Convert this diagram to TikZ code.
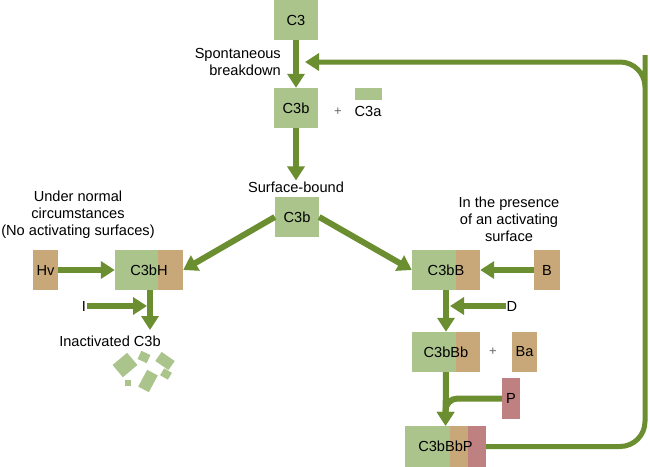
\documentclass[tikz,border=0pt]{standalone}
\usepackage{fontspec}
\setmainfont{Liberation Sans}
\usetikzlibrary{arrows.meta}
\definecolor{boxgreen}{RGB}{170,196,140}
\definecolor{boxtan}{RGB}{200,168,120}
\definecolor{boxmauve}{RGB}{190,128,128}
\definecolor{arrowgreen}{RGB}{107,142,48}
\tikzset{
  lbl/.style={font=\fontsize{14.6}{17}\selectfont, inner sep=1pt, align=center},
  kbox/.style={lbl, inner sep=0pt, minimum height=40pt},
  kgreen/.style={kbox, fill=boxgreen}, ktan/.style={kbox, fill=boxtan},
  kmauve/.style={kbox, fill=boxmauve},
  tailfill/.style={path picture={\fill[boxtan] ([xshift=-#1]path picture bounding box.north east) rectangle (path picture bounding box.south east);}},
  twotail/.style={path picture={
    \fill[boxtan] ([xshift=-36pt]path picture bounding box.north east) rectangle (path picture bounding box.south east);
    \fill[boxmauve] ([xshift=-18pt]path picture bounding box.north east) rectangle (path picture bounding box.south east);}},
  flow/.style={-{Triangle[length=14pt, width=17pt]}, line width=6pt, arrowgreen},
  plus/.style={font=\fontsize{13}{13}\selectfont, text=black!60},
}
\begin{document}
\begin{tikzpicture}[x=1pt, y=-1pt]
    \useasboundingbox (0,0) rectangle (650,466);
    % top: spontaneous breakdown of C3
    \node[kgreen, minimum width=44pt] (c3) at (296,20) {C3};
    \node[kgreen, minimum width=44pt] (c3b) at (296,108) {C3b};
    \node[lbl, anchor=east, align=right] (breaklbl) at (282,62) {Spontaneous\\breakdown};
    \node[plus] (plusa) at (338,112) {+};
    \node[fill=boxgreen, minimum width=27pt, minimum height=12pt, inner sep=0pt] (c3a) at (368.5,94) {};
    \node[lbl] (c3albl) at (368,111) {C3a};
    \node[lbl] (sblbl) at (296,187) {Surface-bound};
    \node[kgreen, minimum width=44pt] (sfc3b) at (297,217) {C3b};
    % left branch
    \node[lbl] (normallbl) at (78,215) {Under normal\\circumstances\\(No activating surfaces)};
    \node[ktan, minimum width=25pt] (hv) at (45.5,270) {Hv};
    \node[kgreen, minimum width=68pt, tailfill=25pt] (c3bh) at (149,270) {C3bH};
    \node[lbl] (ilbl) at (84,306) {I};
    \coordinate (ijoin) at (147,306);
    \node[lbl] (inactlbl) at (110,341) {Inactivated C3b};
    \coordinate (inacttip) at (150,330);
    % right branch
    \node[lbl] (activelbl) at (509,219) {In the presence\\of an activating\\surface};
    \node[kgreen, minimum width=68pt, tailfill=24pt] (c3bb) at (446,270) {C3bB};
    \node[ktan, minimum width=26pt] (b) at (547,270) {B};
    \node[lbl] (dlbl) at (512,306) {D};
    \coordinate (djoin) at (450,306);
    \node[kgreen, minimum width=68pt, tailfill=24pt] (c3bbb) at (446,352) {C3bBb};
    \node[plus] (plusb) at (493,352) {+};
    \node[ktan, minimum width=25pt] (ba) at (524.5,352) {Ba};
    \node[kmauve, minimum width=18pt, minimum height=41pt] (p) at (511,398.5) {P};
    \node[kgreen, minimum width=81pt, minimum height=41pt, twotail] (c3bbbp) at (445.5,446.5) {C3bBbP};
    \coordinate (fbtip) at (305,62);
    % fragments of inactivated C3b
    \foreach \fx/\fy/\fw/\fh/\fa in {125/365/19/16/40, 144/357/10/9/-25, 165/361/16/11/-35, 128/383/6/6/0, 148/381/12/19/-28, 166/374/9/8/-30}
      \fill[boxgreen, shift={(\fx,\fy)}, rotate=\fa] (-\fw/2,-\fh/2) rectangle (\fw/2,\fh/2);
    % arrows
    \draw[flow] (c3) -- (c3b);
    \draw[flow] (c3b) -- (sblbl);
    \draw[flow] (sfc3b.west) -- (c3bh.east);
    \draw[flow] (sfc3b.east) -- (c3bb.west);
    \draw[flow] (hv) -- (c3bh);
    \draw[flow] (c3bh.south -| inacttip) -- (inacttip);
    \draw[flow] (ilbl) -- (ijoin);
    \draw[flow] (b) -- (c3bb);
    \draw[flow] (c3bb) -- (c3bbb);
    \draw[flow] (dlbl) -- (djoin);
    \draw[flow] (c3bbb) -- (c3bbbp);
    \draw[flow, rounded corners=12pt] (p.west) -| (c3bbbp.north);
    \draw[flow, line width=5pt, rounded corners=25pt] (c3bbbp.east) -| (645,80) |- (fbtip);
  \end{tikzpicture}
\end{document}
